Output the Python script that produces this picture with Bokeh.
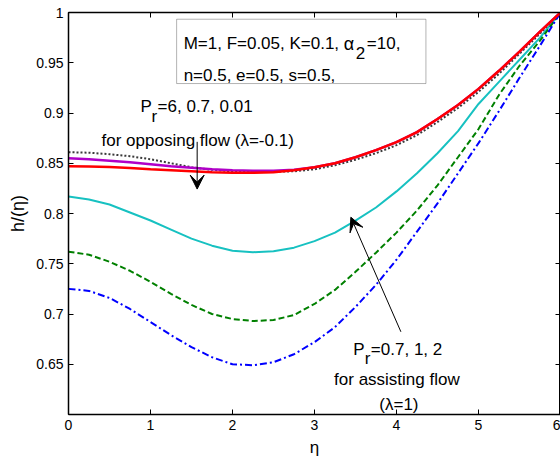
from bokeh.plotting import figure
from bokeh.models import FixedTicker, LinearAxis, BoxAnnotation, Label, Arrow, VeeHead, Title
from bokeh.embed import file_html
from bokeh.resources import INLINE

# ---------------- data ----------------
eta = [0, 0.25, 0.5, 0.75, 1.0, 1.25, 1.5, 1.75, 2.0, 2.25, 2.5, 2.75, 3.0,
       3.25, 3.5, 3.75, 4.0, 4.25, 4.5, 4.75, 5.0, 5.25, 5.5, 5.75, 6.0]

# opposing flow (lambda=-0.1): Pr = 6 (black dotted), 0.7 (magenta), 0.01 (red)
h_opp_a = [0.861, 0.8605, 0.859, 0.857, 0.854, 0.850, 0.846, 0.8435, 0.842, 0.8415,
           0.8415, 0.842, 0.844, 0.848, 0.8535, 0.860, 0.868, 0.878, 0.891, 0.905,
           0.921, 0.939, 0.959, 0.979, 1.0]
h_opp_b = [0.855, 0.854, 0.8525, 0.851, 0.849, 0.847, 0.8455, 0.844, 0.843, 0.8425,
           0.8425, 0.8435, 0.846, 0.850, 0.856, 0.863, 0.871, 0.881, 0.894, 0.908,
           0.924, 0.942, 0.961, 0.981, 1.0]
h_opp_c = [0.847, 0.8468, 0.8462, 0.8452, 0.844, 0.843, 0.842, 0.841, 0.8405, 0.8405,
           0.841, 0.843, 0.846, 0.850, 0.856, 0.863, 0.871, 0.881, 0.894, 0.908,
           0.924, 0.942, 0.961, 0.981, 1.0]

# assisting flow (lambda=1): Pr = 0.7 (cyan), 1 (green dashed), 2 (blue dash-dot)
h_ass_a = [0.817, 0.814, 0.809, 0.801, 0.793, 0.784, 0.775, 0.768, 0.763, 0.7615,
           0.7625, 0.766, 0.7725, 0.781, 0.793, 0.806, 0.822, 0.840, 0.860, 0.882,
           0.909, 0.931, 0.953, 0.975, 1.0]
h_ass_b = [0.762, 0.759, 0.752, 0.743, 0.732, 0.720, 0.709, 0.700, 0.695, 0.693,
           0.694, 0.699, 0.710, 0.724, 0.742, 0.761, 0.781, 0.803, 0.828, 0.856,
           0.884, 0.918, 0.947, 0.972, 1.0]
h_ass_c = [0.725, 0.723, 0.716, 0.705, 0.692, 0.679, 0.667, 0.657, 0.650, 0.649,
           0.652, 0.660, 0.672, 0.687, 0.707, 0.729, 0.754, 0.782, 0.810, 0.840,
           0.870, 0.902, 0.935, 0.967, 1.0]

x_ticks = [0, 1, 2, 3, 4, 5, 6]
x_tick_labels = ["0", "1", "2", "3", "4", "5", "6"]
y_ticks = [0.65, 0.7, 0.75, 0.8, 0.85, 0.9, 0.95, 1.0]
y_tick_labels = ["0.65", "0.7", "0.75", "0.8", "0.85", "0.9", "0.95", "1"]

FONT = "Liberation Sans"

# reference pixel -> data helpers (for annotation placement only)
X0, XPU = 68.0, 81.9
Y0, YPU = 12.3, 1000.0
def dx(px):
    return (px - X0) / XPU
def dy(py):
    return 1.0 - (py - Y0) / YPU

p = figure(width=560, height=461, x_range=(0, 6), y_range=(0.6, 1.0),
           output_backend="svg", toolbar_location=None,
           min_border_left=68, min_border_right=0, min_border_top=12,
           min_border_bottom=47)
p.background_fill_color = "white"
p.border_fill_color = "white"
p.xgrid.visible = False
p.ygrid.visible = False
p.outline_line_color = "black"
p.outline_line_width = 1

def style_axis(ax, ticks, labels, show_labels=True):
    ax.ticker = FixedTicker(ticks=ticks)
    ax.minor_tick_line_color = None
    ax.major_tick_in = 5
    ax.major_tick_out = 0
    ax.major_tick_line_color = "black"
    ax.axis_line_color = "black"
    ax.axis_line_width = 1.5
    ax.major_label_text_font = FONT
    if show_labels:
        ax.major_label_overrides = {t: l for t, l in zip(ticks, labels)}
        ax.major_label_text_color = "black"
        ax.major_label_text_font_size = "14px"
        ax.major_label_standoff = 5
    else:
        ax.major_label_overrides = {t: "" for t in ticks}
        ax.major_label_text_color = None
        ax.major_label_text_font_size = "1px"
        ax.major_label_standoff = 0

style_axis(p.xaxis[0], x_ticks, x_tick_labels)
style_axis(p.yaxis[0], y_ticks, y_tick_labels)
p.yaxis.axis_label = "h/(η)"
p.yaxis.axis_label_text_font = FONT
p.yaxis.axis_label_text_font_style = "normal"
p.yaxis.axis_label_text_color = "black"
p.yaxis.axis_label_text_font_size = "18px"
p.yaxis.axis_label_standoff = 5

# x-axis title placed in its own panel below the tick labels
p.add_layout(Title(text="η", align="center", text_font=FONT, text_font_size="17px",
                   text_font_style="normal", text_color="black", standoff=6), "below")

top_ax = LinearAxis()
style_axis(top_ax, x_ticks, x_tick_labels, show_labels=False)
p.add_layout(top_ax, "above")
right_ax = LinearAxis()
style_axis(right_ax, y_ticks, y_tick_labels, show_labels=False)
p.add_layout(right_ax, "right")

# ---------------- curves ----------------
p.line(eta, h_ass_a, line_color="#17c1c1", line_width=2)
p.line(eta, h_ass_b, line_color="#008000", line_width=2, line_dash="6 3")
p.line(eta, h_ass_c, line_color="#0000ff", line_width=2, line_dash="7 3 2 3")
p.line(eta, h_opp_a, line_color="#3a3a3a", line_width=2, line_dash="2 2")
p.line(eta, h_opp_b, line_color="#b000c8", line_width=2.5)
p.line(eta, h_opp_c, line_color="#ff0000", line_width=2.5)

# ---------------- annotations ----------------
p.add_layout(BoxAnnotation(left=dx(176), right=dx(425), top=dy(19), bottom=dy(83),
                           fill_color="white", fill_alpha=1.0,
                           line_color="black", line_width=1))

def txt(px, py, s, size="17px", align="left"):
    p.add_layout(Label(x=dx(px), y=dy(py), text=s, text_font=FONT,
                       text_font_size=size, text_color="black",
                       text_baseline="alphabetic", text_align=align))

txt(183, 43.5, "M=1, F=0.05, K=0.1,")
txt(343, 43.5, "α", size="18px")
txt(355, 53, "2")
txt(366, 43.5, "=10,")
txt(183, 75, "n=0.5, e=0.5, s=0.5,")

txt(140, 105.5, "P")
txt(151, 116, "r")
txt(157, 105.5, "=6, 0.7, 0.01")
txt(197, 140, "for opposing flow (λ=-0.1)", align="center")

txt(352.5, 347.5, "P")
txt(364, 357, "r")
txt(370, 347.5, "=0.7, 1, 2")
txt(396, 377.5, "for assisting flow", align="center")
txt(398, 402.5, "(λ=1)", align="center")

p.add_layout(Arrow(end=VeeHead(size=14, fill_color="black", line_color="black"),
                   x_start=dx(196.5), y_start=dy(141), x_end=dx(196.5), y_end=dy(188),
                   line_color="black", line_width=1))
p.add_layout(Arrow(end=VeeHead(size=14, fill_color="black", line_color="black"),
                   x_start=dx(400), y_start=dy(330), x_end=dx(350), y_end=dy(216),
                   line_color="black", line_width=1))

open("out.html", "w").write(file_html(p, INLINE))
